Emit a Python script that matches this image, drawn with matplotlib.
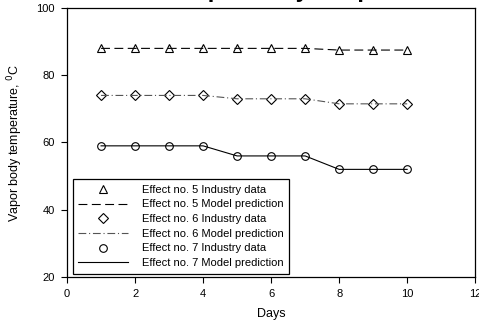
"""
Vapor body temperature of effects 5-7: industry data vs model prediction.
"""

import matplotlib
matplotlib.use('Agg')
import matplotlib.pyplot as plt

plt.rcParams['font.family'] = ['Liberation Sans', 'DejaVu Sans']

# days of operation
days = [1, 2, 3, 4, 5, 6, 7, 8, 9, 10]

# industry data
eff5_data = [88, 88, 88, 88, 88, 88, 88, 87.5, 87.5, 87.5]
eff6_data = [74, 74, 74, 74, 73, 73, 73, 71.5, 71.5, 71.5]
eff7_data = [59, 59, 59, 59, 56, 56, 56, 52, 52, 52]

# model predictions
eff5_model = [88, 88, 88, 88, 88, 88, 88, 87.5, 87.5, 87.5]
eff6_model = [74, 74, 74, 74, 73, 73, 73, 71.5, 71.5, 71.5]
eff7_model = [59, 59, 59, 59, 56, 56, 56, 52, 52, 52]

x_ticks = [0, 2, 4, 6, 8, 10, 12]
y_ticks = [20, 40, 60, 80, 100]

fig = plt.figure(figsize=(4.79, 3.22), dpi=100)
ax = fig.add_axes([0.140, 0.140, 0.852, 0.835])

mk = dict(linestyle='none', fillstyle='none', markeredgecolor='black',
          markeredgewidth=0.8, markersize=5.5)

ax.plot(days, eff5_data, marker='^', label='Effect no. 5 Industry data', **mk)
ax.plot(days, eff5_model, color='black', lw=0.8, linestyle=(0, (8, 4)),
        label='Effect no. 5 Model prediction')
ax.plot(days, eff6_data, marker='D', label='Effect no. 6 Industry data',
        **{**mk, 'markersize': 5})
ax.plot(days, eff6_model, color='#555555', lw=0.8, linestyle=(0, (7, 2.5, 1, 2.5)),
        label='Effect no. 6 Model prediction')
ax.plot(days, eff7_data, marker='o', label='Effect no. 7 Industry data', **mk)
ax.plot(days, eff7_model, color='black', lw=0.8, linestyle='-',
        label='Effect no. 7 Model prediction')

ax.set_xlim(0, 12)
ax.set_ylim(20, 100)
ax.set_xticks(x_ticks)
ax.set_yticks(y_ticks)
ax.tick_params(direction='out', length=4, width=0.8, labelsize=8, pad=5)
for sp in ax.spines.values():
    sp.set_linewidth(0.9)

ax.set_xlabel('Days', fontsize=9, labelpad=6)
ax.set_ylabel('Vapor body temperature, $^{0}$C', fontsize=9, labelpad=8)

leg = ax.legend(loc='lower left', bbox_to_anchor=(0.014, 0.012), borderaxespad=0,
                fontsize=8, handlelength=4.5, handletextpad=1.2, labelspacing=0.42,
                borderpad=0.5, frameon=True, fancybox=False, edgecolor='black',
                framealpha=1)
leg.get_frame().set_linewidth(0.9)

# title clipped by the top edge of the picture
fig.text(0.66, 1.009, 'Vapor body temperature', fontsize=17, fontweight='bold',
         ha='center', va='baseline')

fig.savefig('out.png', dpi=100)
